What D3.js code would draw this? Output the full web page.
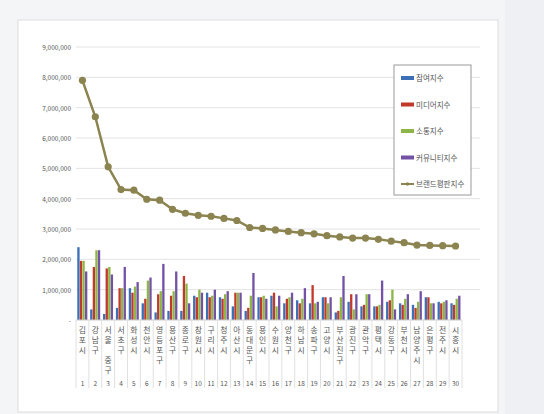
<!DOCTYPE html>
<html><head><meta charset="utf-8">
<script src="https://cdn.jsdelivr.net/npm/d3@7"></script>
<style>body{margin:0;background:#f4f5f7;font-family:"Noto Sans CJK KR","Noto Sans",sans-serif}</style>
</head><body><svg id="c" width="544" height="414"></svg>
<script>
const regions = ["김포시","강남구","서울 중구","서초구","화성시","천안시","영등포구","용산구","종로구","창원시","구리시","청주시","아산시","동대문구","용인시","수원시","양천구","하남시","송파구","고양시","부산진구","광진구","관악구","평택시","강동구","부천시","남양주시","은평구","전주시","시흥시"]
const participation = [2.4,0.35,0.2,0.4,1.05,0.55,0.25,0.3,0.3,0.8,0.9,0.75,0.45,0.3,0.75,0.8,0.55,0.65,0.55,0.75,0.25,0.6,0.45,0.45,0.6,0.55,0.5,0.75,0.6,0.55]
const media = [1.95,1.75,1.7,1.05,0.9,0.7,0.85,0.8,1.45,0.75,0.75,0.7,0.9,0.4,0.75,0.9,0.7,0.55,1.15,0.75,0.3,0.85,0.5,0.45,0.65,0.5,0.4,0.75,0.55,0.5]
const communication = [1.95,2.3,1.75,1.05,1.1,1.3,0.95,0.95,1.2,1.0,0.8,0.85,0.9,0.8,0.8,0.45,0.75,0.7,0.55,0.55,0.75,0.35,0.85,0.5,1.0,0.7,0.6,0.55,0.6,0.7]
const community = [1.6,2.3,1.5,1.75,1.25,1.4,1.85,1.6,0.55,0.9,1.0,0.95,0.9,1.55,0.7,0.8,0.9,1.05,0.6,0.75,1.45,0.85,0.85,1.3,0.35,0.85,0.95,0.55,0.65,0.8]
const brand = [7.9,6.7,5.05,4.3,4.28,3.98,3.95,3.65,3.52,3.45,3.42,3.35,3.28,3.05,3.02,2.97,2.92,2.88,2.84,2.78,2.74,2.7,2.7,2.66,2.6,2.55,2.47,2.46,2.45,2.44]
const seriesNames = ["참여지수","미디어지수","소통지수","커뮤니티지수"]
const colors = ["#3b6fb6","#c0392b","#8db646","#7352a5"]
const yTicks = d3.range(0,10).map(d=>d*1e6)

const svg = d3.select("#c")
svg.append("rect").attr("x",18).attr("y",20).attr("width",480).attr("height",392).attr("fill","#fff").attr("stroke","#ddd")
svg.append("rect").attr("x",505).attr("y",0).attr("width",39).attr("height",414).attr("fill","#eef0f3")

const x = d3.scaleBand().domain(d3.range(30)).range([76,462])
const y = d3.scaleLinear().domain([0,9e6]).range([320,47])
const xs = d3.scaleBand().domain(d3.range(4)).range([0,x.bandwidth()]).paddingOuter(0.5)

svg.append("g").selectAll("line").data(yTicks.slice(1)).join("line")
  .attr("x1",76).attr("x2",480).attr("y1",d=>y(d)).attr("y2",d=>y(d)).attr("stroke","#e3e3e3")
svg.append("g").selectAll("text").data(yTicks).join("text")
  .attr("x",71).attr("y",d=>y(d)+3).attr("text-anchor","end").attr("font-size",6.5).attr("fill","#555")
  .text(d=>d===0?"-":d3.format(",")(d))

;[participation,media,communication,community].forEach((s,k)=>{
  svg.append("g").selectAll("rect").data(s).join("rect")
    .attr("x",(d,i)=>x(i)+xs(k)).attr("width",xs.bandwidth()*0.9)
    .attr("y",d=>y(d*1e6)).attr("height",d=>y(0)-y(d*1e6)).attr("fill",colors[k])
})

svg.append("line").attr("x1",76).attr("x2",462).attr("y1",320).attr("y2",320).attr("stroke","#ccc")
svg.append("g").selectAll("line").data(d3.range(31)).join("line")
  .attr("x1",i=>76+i*x.step()).attr("x2",i=>76+i*x.step()).attr("y1",320).attr("y2",388).attr("stroke","#e0e0e0")

const cx = i=>x(i)+x.bandwidth()/2
svg.append("path").datum(brand).attr("fill","none").attr("stroke","#8b8450").attr("stroke-width",2.5)
  .attr("d",d3.line().x((d,i)=>cx(i)).y(d=>y(d*1e6)))
svg.append("g").selectAll("circle").data(brand).join("circle")
  .attr("cx",(d,i)=>cx(i)).attr("cy",d=>y(d*1e6)).attr("r",3.6).attr("fill","#8b8450")

// vertical stacked labels, one glyph per line
const lab = svg.append("g").selectAll("g").data(regions).join("g")
  .attr("transform",(d,i)=>`translate(${cx(i)},${326})`)
lab.each(function(d){
  const g=d3.select(this)
  Array.from(d).forEach((ch,j)=>{
    if(ch!==" ") g.append("text").attr("y",j*10+7).attr("text-anchor","middle").attr("font-size",7.8).attr("fill","#555").text(ch)
  })
})
svg.append("g").selectAll("text").data(d3.range(30)).join("text")
  .attr("x",i=>cx(i)).attr("y",386).attr("text-anchor","middle").attr("font-size",6.5).attr("fill","#555").text(i=>i+1)

const lg = svg.append("g").attr("transform","translate(394,65)")
lg.append("rect").attr("width",77).attr("height",130).attr("fill","#fff").attr("stroke","#999")
seriesNames.concat(["브랜드평판지수"]).forEach((n,k)=>{
  const yy=13+k*26.5
  if(k<4) lg.append("rect").attr("x",7).attr("y",yy-2).attr("width",13).attr("height",4).attr("fill",colors[k])
  else { lg.append("line").attr("x1",7).attr("x2",20).attr("y1",yy).attr("y2",yy).attr("stroke","#8b8450").attr("stroke-width",2)
         lg.append("circle").attr("cx",13.5).attr("cy",yy).attr("r",1.8).attr("fill","#8b8450") }
  lg.append("text").attr("x",22).attr("y",yy+3).attr("font-size",7.5).attr("fill","#555").text(n)
})
</script></body></html>
